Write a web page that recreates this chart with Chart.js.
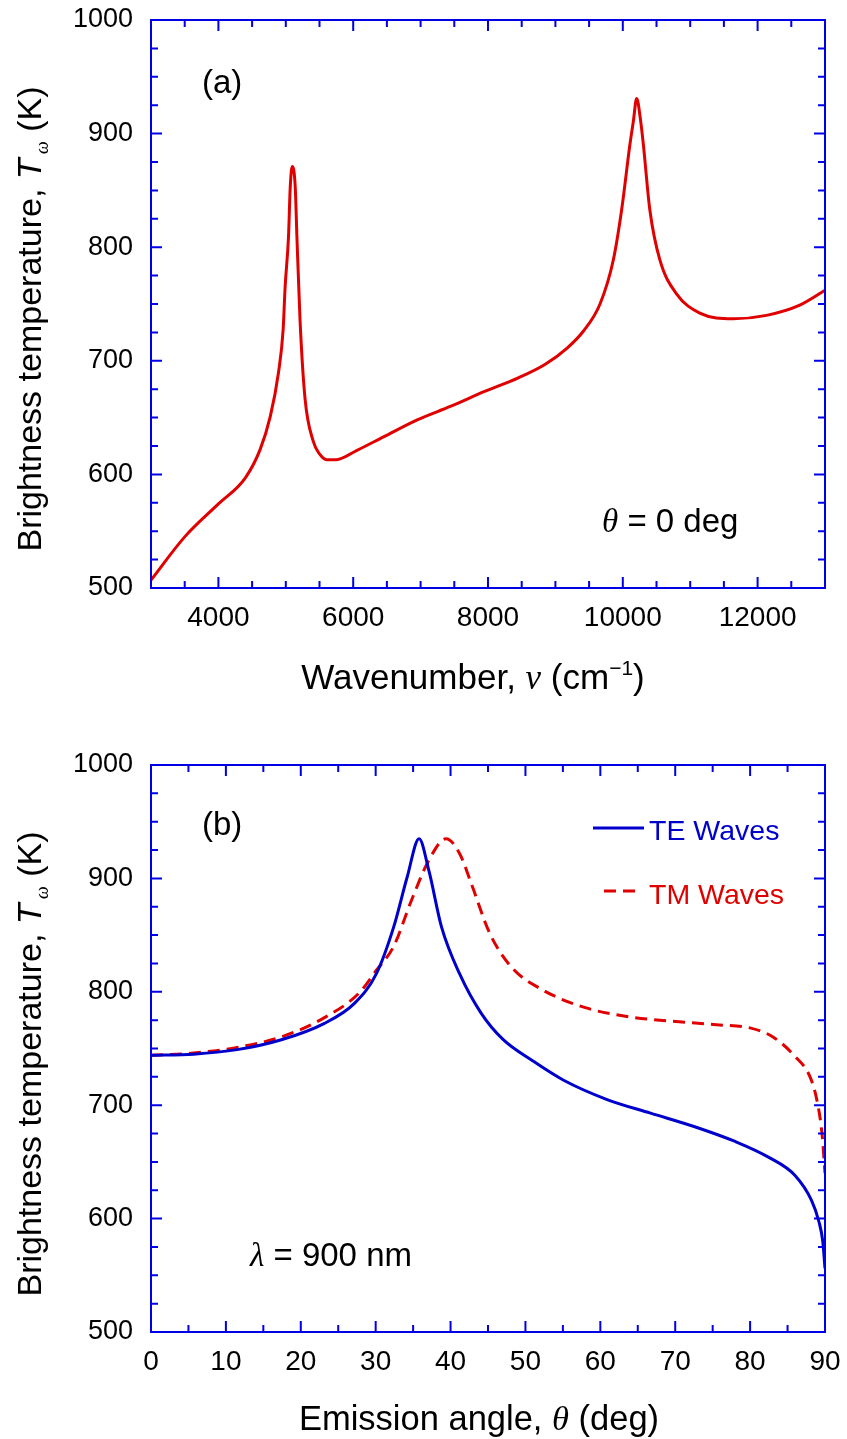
<!DOCTYPE html>
<html>
<head>
<meta charset="utf-8">
<script src="https://cdn.jsdelivr.net/npm/chart.js"></script>
<style>
html, body { margin: 0; padding: 0; background: #fff; }
#wrap { position: relative; width: 847px; height: 1439px; }
canvas { position: absolute; left: 0; }
</style>
</head>
<body>
<div id="wrap">
  <canvas id="chart-a" width="847" height="700" style="top:0px"></canvas>
  <canvas id="chart-b" width="847" height="739" style="top:700px"></canvas>
</div>
<script>
// (a) espectro em theta = 0
const wavenumber = [3000, 3500, 4000, 4400, 4620, 4770, 4890, 4960, 4990, 5040,
                    5066, 5096, 5140, 5165, 5211, 5285, 5408, 5500, 5607, 5750,
                    6050, 6450, 6950, 7450, 7950, 8450, 8850, 9170, 9414, 9662,
                    9860, 9983, 10107, 10157, 10206, 10265, 10304, 10401, 10549, 10797,
                    11142, 11637, 12131, 12626, 13000];
const tempA = [507, 545, 574, 597, 622, 651, 689, 727, 765, 809,
               853, 871, 853, 809, 736, 667, 629, 618, 613, 613,
               621, 633, 648, 660, 673, 685, 697, 711, 726, 750,
               789, 833, 891, 911, 931, 911, 891, 833, 789, 759,
               742, 737, 740, 749, 762];

// (b) angulo de emissao, lambda = 900 nm
const angleTE = [0, 5.7, 11.5, 17.3, 23.1, 27.2, 30.1, 32.4, 34.2, 35.8,
                 37.1, 38.8, 41.2, 44.1, 47, 51, 55.1, 60.9, 66.7, 72.6,
                 78, 82.5, 86, 88.2, 89.2, 89.7, 90];
const tempTE = [744, 745, 749, 757.5, 772, 790, 816, 857, 901, 935,
                907, 857, 816, 781, 758, 739, 722, 705, 693, 681,
                668, 654, 638, 616, 597, 580, 556];
const angleTM = [0, 5.7, 11.5, 17.3, 23.1, 27.8, 30.1, 32.4, 34.8, 37.1,
                 39.4, 41.2, 42.9, 45.2, 48.1, 52.2, 58, 63.8, 69.6, 75.5,
                 80.1, 83.1, 86, 88, 88.9, 89.6, 90];
const tempTM = [744, 746, 751, 760, 777, 799, 819, 840, 881, 916,
                935, 922, 893, 852, 822, 802, 786, 778, 774, 771,
                768, 760, 743, 725, 705, 675, 640];

// rotulos dos eixos
const ticksXa = [4000, 6000, 8000, 10000, 12000];
const ticksXb = [0, 10, 20, 30, 40, 50, 60, 70, 80, 90];
const ticksY = [500, 600, 700, 800, 900, 1000];

const COR_EIXO = '#0000e6';
const COR_VERMELHO = '#e00000';
const COR_AZUL = '#0000cc';
const SANS = '"Liberation Sans", Arial, sans-serif';
const SERIF = '"Liberation Serif", "Times New Roman", serif';

Chart.defaults.font.family = SANS;
Chart.defaults.color = '#000';

// escreve texto com partes de fontes diferentes: [texto, fonte, dy]
function drawRich(ctx, parts, x, y, align) {
    let total = 0;
    parts.forEach(p => { ctx.font = p[1]; total += ctx.measureText(p[0]).width; });
    let cx = align === 'center' ? x - total / 2 : x;
    parts.forEach(p => {
        ctx.font = p[1];
        ctx.fillText(p[0], cx, y + (p[2] || 0));
        cx += ctx.measureText(p[0]).width;
    });
}

// moldura azul com marcas para dentro nos quatro lados
const molduraEixos = {
    id: 'molduraEixos',
    afterDraw(chart, args, opts) {
        const { ctx, chartArea: a } = chart;
        const sx = chart.scales.x, sy = chart.scales.y;
        ctx.save();
        ctx.strokeStyle = COR_EIXO;
        ctx.lineWidth = 2;
        ctx.beginPath();
        for (let v = sx.min; v <= sx.max + 1e-6; v += opts.xMenor) {
            const px = sx.getPixelForValue(v);
            const len = Math.abs(v % opts.xMaior) < 1e-6 ? 11 : 7;
            ctx.moveTo(px, a.bottom); ctx.lineTo(px, a.bottom - len);
            ctx.moveTo(px, a.top); ctx.lineTo(px, a.top + len);
        }
        for (let v = sy.min; v <= sy.max + 1e-6; v += opts.yMenor) {
            const py = sy.getPixelForValue(v);
            const len = Math.abs(v % opts.yMaior) < 1e-6 ? 11 : 7;
            ctx.moveTo(a.left, py); ctx.lineTo(a.left + len, py);
            ctx.moveTo(a.right, py); ctx.lineTo(a.right - len, py);
        }
        ctx.stroke();
        ctx.strokeRect(a.left, a.top, a.right - a.left, a.bottom - a.top);
        ctx.restore();
    }
};

function tituloY(ctx, cx, cy) {
    ctx.save();
    ctx.translate(cx, cy);
    ctx.rotate(-Math.PI / 2);
    ctx.fillStyle = '#000';
    ctx.textBaseline = 'middle';
    drawRich(ctx, [
        ['Brightness temperature, ', '34px ' + SANS],
        ['T', 'italic 34px ' + SANS],
        [' ω', 'italic 18px ' + SERIF, 11],
        [' (K)', '34px ' + SANS]
    ], 0, 0, 'center');
    ctx.restore();
}

function eixoX(min, max, ticks, altura) {
    return {
        type: 'linear', min: min, max: max,
        grid: { display: false, drawTicks: false },
        border: { display: false },
        ticks: { font: { size: 28 }, padding: 13, maxRotation: 0, autoSkip: false,
                 callback: v => v.toString() },
        afterBuildTicks: s => { s.ticks = ticks.map(v => ({ value: v })); },
        afterFit: s => { s.height = altura; s.paddingLeft = 0; s.paddingRight = 0; }
    };
}

function eixoY() {
    return {
        type: 'linear', min: 500, max: 1000,
        grid: { display: false, drawTicks: false },
        border: { display: false },
        ticks: { font: { size: 27 }, padding: 18, callback: v => v.toString() },
        afterBuildTicks: s => { s.ticks = ticksY.map(v => ({ value: v })); },
        afterFit: s => { s.width = 151; s.paddingTop = 0; s.paddingBottom = 0; }
    };
}

// GRÁFICO (a)
const textosA = {
    id: 'textosA',
    afterDraw(chart) {
        const ctx = chart.ctx;
        ctx.save();
        ctx.fillStyle = '#000';
        ctx.textBaseline = 'alphabetic';
        drawRich(ctx, [['(a)', '33px ' + SANS]], 202, 93, 'left');
        drawRich(ctx, [['θ', 'italic 33px ' + SERIF], [' = 0 deg', '33px ' + SANS]], 602, 532, 'left');
        drawRich(ctx, [
            ['Wavenumber, ', '35px ' + SANS],
            ['ν', 'italic 35px ' + SERIF],
            [' (cm', '35px ' + SANS],
            ['−1', '21px ' + SANS, -14],
            [')', '35px ' + SANS]
        ], 473, 689, 'center');
        ctx.restore();
        tituloY(ctx, 32, 319);
    }
};

new Chart(document.getElementById('chart-a'), {
    type: 'line',
    data: {
        datasets: [{
            label: 'θ = 0 deg',
            data: wavenumber.map((v, i) => ({ x: v, y: tempA[i] })),
            borderColor: COR_VERMELHO,
            borderWidth: 3,
            pointRadius: 0,
            cubicInterpolationMode: 'monotone',
            fill: false
        }]
    },
    options: {
        responsive: false,
        animation: false,
        events: [],
        layout: { padding: { left: 0, right: 22, top: 20, bottom: 0 } },
        plugins: {
            legend: { display: false },
            tooltip: { enabled: false },
            molduraEixos: { xMenor: 500, xMaior: 2000, yMenor: 25, yMaior: 100 }
        },
        scales: { x: eixoX(3000, 13000, ticksXa, 112), y: eixoY() }
    },
    plugins: [molduraEixos, textosA]
});

// GRÁFICO (b)
const textosB = {
    id: 'textosB',
    afterDraw(chart) {
        const ctx = chart.ctx;
        const ds = chart.data.datasets;
        ctx.save();
        ctx.fillStyle = '#000';
        ctx.textBaseline = 'alphabetic';
        drawRich(ctx, [['(b)', '33px ' + SANS]], 202, 135, 'left');
        drawRich(ctx, [['λ', 'italic 33px ' + SERIF], [' = 900 nm', '33px ' + SANS]], 250, 566, 'left');
        drawRich(ctx, [
            ['Emission angle, ', '34.5px ' + SANS],
            ['θ', 'italic 34.5px ' + SERIF],
            [' (deg)', '34.5px ' + SANS]
        ], 479, 730, 'center');

        // legenda
        const itens = [{ y: 128, x0: 593, x1: 644, ty: 140 }, { y: 191, x0: 604, x1: 642, ty: 204 }];
        itens.forEach((it, i) => {
            ctx.strokeStyle = ds[i].borderColor;
            ctx.lineWidth = 3;
            ctx.setLineDash(ds[i].borderDash || []);
            ctx.beginPath();
            ctx.moveTo(it.x0, it.y); ctx.lineTo(it.x1, it.y);
            ctx.stroke();
            ctx.setLineDash([]);
            ctx.fillStyle = ds[i].borderColor;
            drawRich(ctx, [[ds[i].label, '28.5px ' + SANS]], 649, it.ty, 'left');
        });
        ctx.restore();
        tituloY(ctx, 32, 364);
    }
};

new Chart(document.getElementById('chart-b'), {
    type: 'line',
    data: {
        datasets: [
            {
                label: 'TE Waves',
                data: angleTE.map((v, i) => ({ x: v, y: tempTE[i] })),
                borderColor: COR_AZUL,
                borderWidth: 3,
                pointRadius: 0,
                cubicInterpolationMode: 'monotone',
                fill: false
            },
            {
                label: 'TM Waves',
                data: angleTM.map((v, i) => ({ x: v, y: tempTM[i] })),
                borderColor: COR_VERMELHO,
                borderWidth: 3,
                borderDash: [12, 7],
                pointRadius: 0,
                cubicInterpolationMode: 'monotone',
                fill: false
            }
        ]
    },
    options: {
        responsive: false,
        animation: false,
        events: [],
        layout: { padding: { left: 0, right: 22, top: 65, bottom: 0 } },
        plugins: {
            legend: { display: false },
            tooltip: { enabled: false },
            molduraEixos: { xMenor: 5, xMaior: 10, yMenor: 25, yMaior: 100 }
        },
        scales: { x: eixoX(0, 90, ticksXb, 107), y: eixoY() }
    },
    plugins: [molduraEixos, textosB]
});
</script>
</body>
</html>
